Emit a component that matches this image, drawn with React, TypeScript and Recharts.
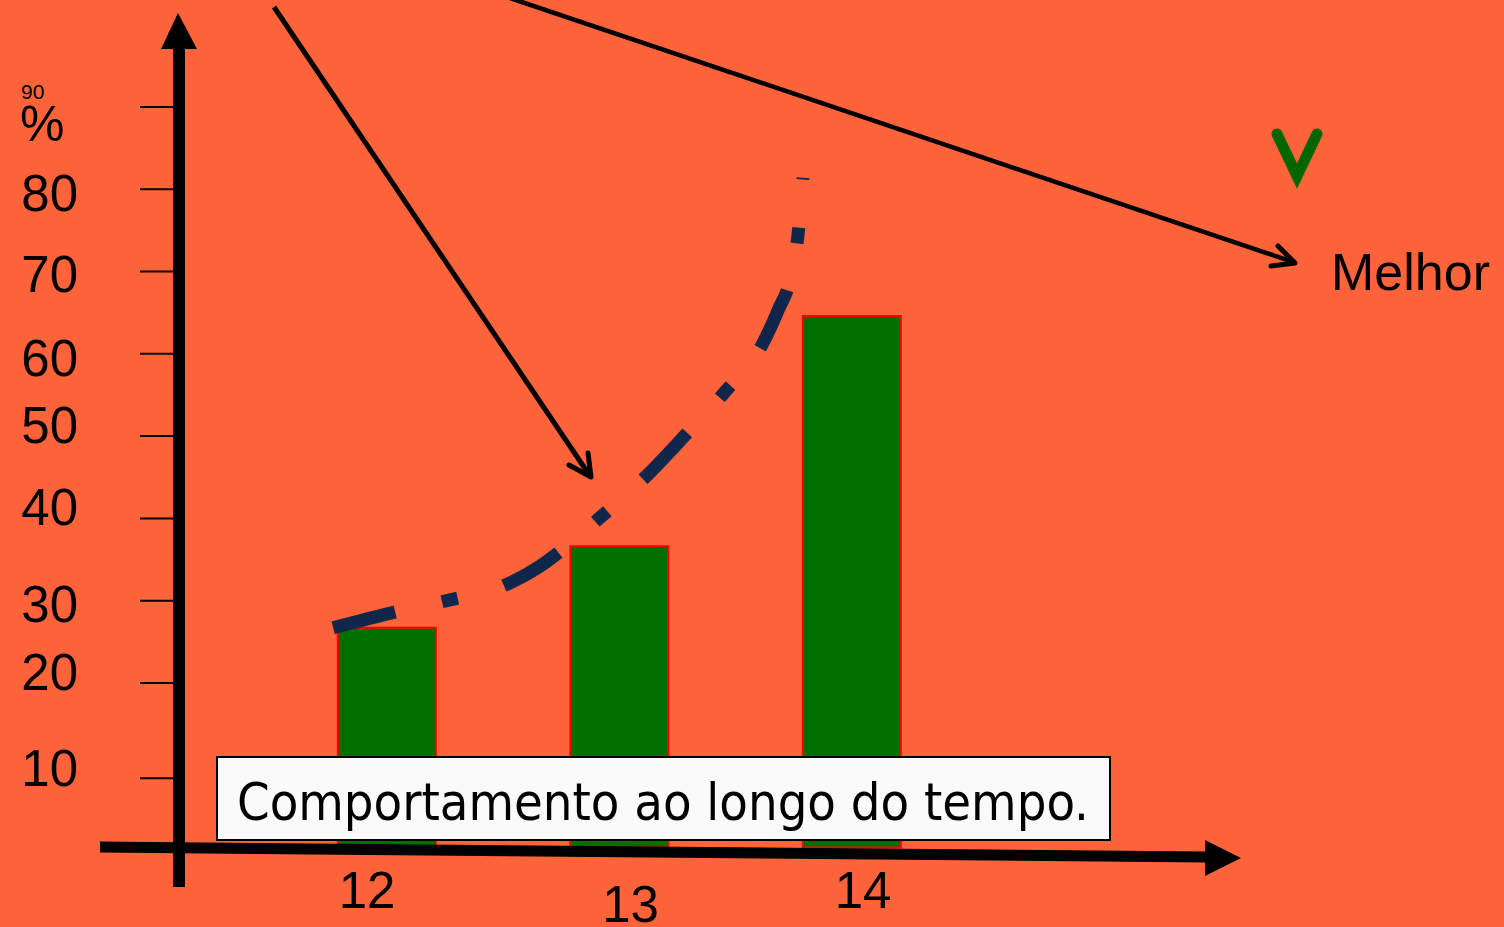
import React from "react";
import { ComposedChart, LineChart, Bar, Line, XAxis, YAxis } from "recharts";

// valores
const categorias = [12, 13, 14];
const valoresBarra = [26.7, 36.6, 64.6];

const curvaX = [11.768, 12.034, 12.271, 12.508, 12.658, 12.766, 12.92, 13.11, 13.295, 13.454, 13.613, 13.682, 13.733, 13.768, 13.789];
const curvaY = [26.7, 28.6, 30.1, 31.9, 34.2, 36.5, 40.2, 45.0, 50.5, 55.4, 61.1, 65.3, 69.0, 74.6, 81.4];

const ticksY = [10, 20, 30, 40, 50, 60, 70, 80, 90];
const rotulosX = ["12", "13", "14"];

const W = 1504;
const H = 927;
const FUNDO = "#FF6339";
const DOMINIO_X: [number, number] = [11.105, 15.673];
const DOMINIO_Y: [number, number] = [-4.8, 97.05];
const MARGEM = { top: 49, right: 263, bottom: 0, left: 0 };

var barData: { x: number; valor: number }[] = [];
for (var i = 0; i < categorias.length; i++) {
  barData.push({ x: categorias[i], valor: valoresBarra[i] });
}

var lineData: { x: number; y: number }[] = [];
for (var j = 0; j < curvaX.length; j++) {
  lineData.push({ x: curvaX[j], y: curvaY[j] });
}

// ajustes finos do slide original (posicao dos rotulos)
const desvioTick: Record<number, number> = { 10: 13 };
const baseRotulo: Record<number, number> = { 10: 8, 20: 7, 30: 21, 40: 7, 50: 7, 60: 22, 70: 20, 80: 22 };
const desvioRotuloX: Record<string, { dx: number; base: number }> = {
  "12": { dx: -20, base: 21 },
  "13": { dx: 11, base: 35 },
  "14": { dx: 11, base: 21 },
};

function TickY(props: any) {
  var x = props.x;
  var v = props.payload.value;
  var y = props.y + (desvioTick[v] || 0);
  if (v === 90) {
    return (
      <g>
        <line x1={x - 39} y1={y} x2={x} y2={y} stroke="#000" strokeWidth={2} />
        <text x={x - 158} y={y - 8} fontSize={21} fontFamily="Liberation Sans, Arial, sans-serif" fill="#000">90</text>
        <text x={x - 159} y={y + 34} fontSize={50} fontFamily="Liberation Sans, Arial, sans-serif" fill="#000">%</text>
      </g>
    );
  }
  return (
    <g>
      <line x1={x - 39} y1={y} x2={x} y2={y} stroke="#000" strokeWidth={2} />
      <text x={x - 101} y={y + (baseRotulo[v] || 20)} textAnchor="end" fontSize={51} fontFamily="Liberation Sans, Arial, sans-serif" fill="#000">
        {String(v)}
      </text>
    </g>
  );
}

function TickX(props: any) {
  var idx = categorias.indexOf(props.payload.value);
  var rotulo = idx >= 0 ? rotulosX[idx] : String(props.payload.value);
  var aj = desvioRotuloX[rotulo] || { dx: 0, base: 21 };
  return (
    <text x={props.x + aj.dx} y={props.y + aj.base} textAnchor="middle" fontSize={51} fontFamily="Liberation Sans, Arial, sans-serif" fill="#000">
      {rotulo}
    </text>
  );
}

export default function App() {
  return (
    <div style={{ position: "absolute", left: 0, top: 0, width: W, height: H, background: FUNDO, overflow: "hidden" }}>
      <div style={{ position: "absolute", left: 0, top: 0 }}>
        <ComposedChart width={W} height={H} data={barData} margin={MARGEM}>
          <XAxis
            dataKey="x"
            type="number"
            domain={DOMINIO_X}
            allowDataOverflow
            ticks={categorias}
            height={40}
            axisLine={false}
            tickLine={false}
            tickSize={0}
            tickMargin={0}
            tick={TickX}
            interval={0}
          />
          <YAxis
            type="number"
            domain={DOMINIO_Y}
            allowDataOverflow
            ticks={ticksY}
            width={179}
            axisLine={{ stroke: "#000", strokeWidth: 12 }}
            tickLine={false}
            tickSize={0}
            tickMargin={0}
            tick={TickY}
            interval={0}
          />
          <Bar dataKey="valor" barSize={98} fill="#007000" stroke="#FF0000" strokeWidth={2} isAnimationActive={false} />
        </ComposedChart>
      </div>

      <div style={{ position: "absolute", left: 0, top: 0 }}>
        <LineChart width={W} height={H} data={lineData} margin={{ top: 49, right: 263, bottom: 40, left: 179 }}>
          <XAxis dataKey="x" type="number" domain={DOMINIO_X} allowDataOverflow hide />
          <YAxis type="number" domain={DOMINIO_Y} allowDataOverflow hide />
          <Line
            type="monotone"
            dataKey="y"
            stroke="#10264A"
            strokeWidth={13}
            strokeDasharray="64 48 16 48"
            strokeLinecap="butt"
            dot={false}
            activeDot={false}
            isAnimationActive={false}
          />
        </LineChart>
      </div>

      <svg width={W} height={H} style={{ position: "absolute", left: 0, top: 0, pointerEvents: "none" }}>
        {/* seta do eixo y */}
        <polygon points="178,13 161,49 197,49" fill="#000" />
        {/* eixo x inclinado */}
        <line x1={100} y1={847} x2={1207} y2={857} stroke="#000" strokeWidth={11} />
        <polygon points="1205,840 1241,858 1205,876" fill="#000" />

        {/* setas de anotacao */}
        <line x1={274} y1={7} x2={590} y2={476} stroke="#000" strokeWidth={5} />
        <polyline points="569,465 591,477 588,453" fill="none" stroke="#000" strokeWidth={5} strokeLinecap="round" strokeLinejoin="round" />
        <line x1={510} y1={-2} x2={1293} y2={262} stroke="#000" strokeWidth={4.5} />
        <polyline points="1271,266 1295,263 1278,246" fill="none" stroke="#000" strokeWidth={5} strokeLinecap="round" strokeLinejoin="round" />

        {/* visto verde */}
        <polyline points="1277,134 1297,176 1317,134" fill="none" stroke="#006600" strokeWidth={11} strokeLinecap="round" strokeLinejoin="miter" />

        <text x={1331} y={290} fontSize={52} fontFamily="Liberation Sans, Arial, sans-serif" fill="#000">Melhor</text>

        {/* caixa de legenda */}
        <rect x={217} y={757} width={893} height={83} fill="#FAFAFA" stroke="#000" strokeWidth={2} />
        <text x={237} y={820} fontSize={52} fontFamily="DejaVu Sans Condensed, DejaVu Sans, sans-serif" fill="#000">
          Comportamento ao longo do tempo.
        </text>
      </svg>
    </div>
  );
}
